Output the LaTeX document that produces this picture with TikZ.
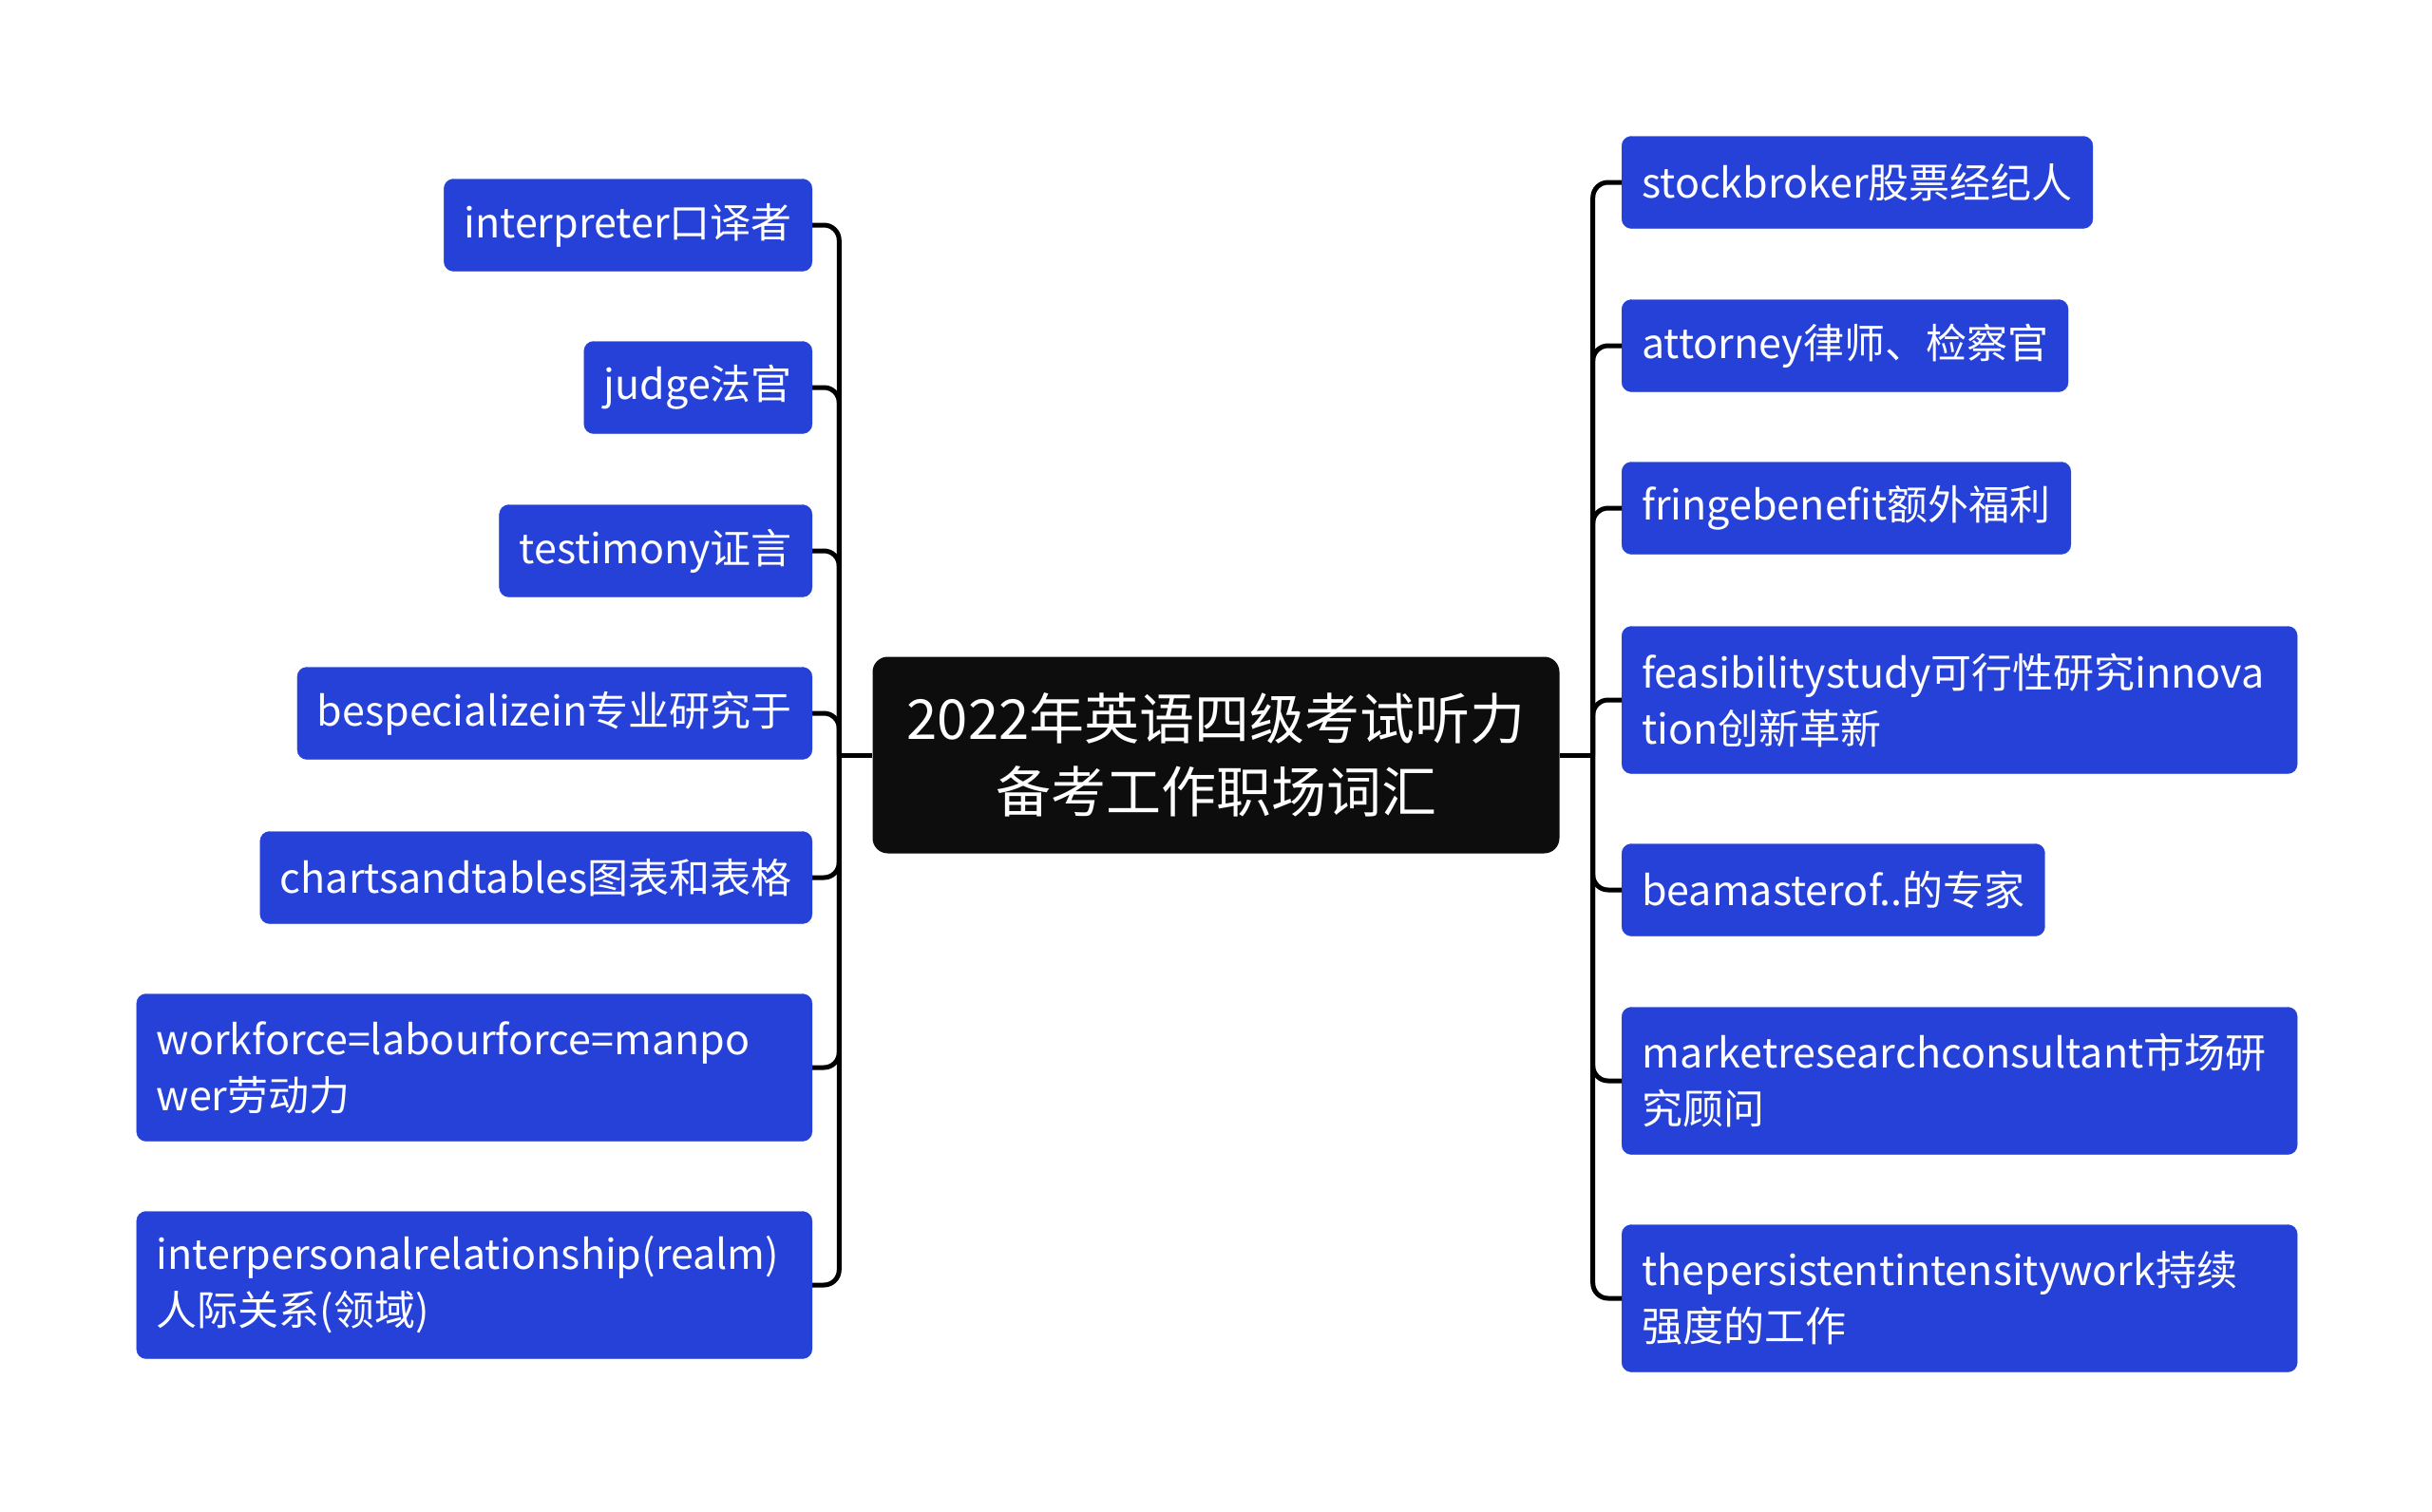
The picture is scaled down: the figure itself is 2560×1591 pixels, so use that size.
\documentclass[tikz,border=0pt]{standalone}
\usepackage{fontspec}
\setmainfont{Noto Sans CJK SC}
\usetikzlibrary{positioning}
\definecolor{leafblue}{HTML}{2541D8}
\definecolor{rootblack}{HTML}{0D0D0D}
\hyphenpenalty=10000

\begin{document}
\begin{tikzpicture}[x=1pt, y=-1pt]
    % Define styles
    \tikzstyle{leaf} = [rectangle, draw=leafblue, fill=leafblue, text=white, rounded corners=10pt, minimum height=97pt, inner xsep=21pt, font=\fontsize{43}{59}\selectfont]
    \tikzstyle{wide} = [leaf, text width=669pt, align=left, minimum height=155pt]
    \tikzstyle{root} = [rectangle, fill=rootblack, text=white, rounded corners=16pt, minimum width=723pt, minimum height=207pt, align=center, font=\fontsize{58}{77}\selectfont]
    \tikzstyle{line} = [draw, line width=5pt, rounded corners=16pt]

    \useasboundingbox (0,0) rectangle (2560,1591);

    % Place nodes
    \node [root] (root) at (1280,795) {2022年英语四级考试听力\\备考工作职场词汇};
    \coordinate (lhub) at ([xshift=-35pt]root.west);
    \coordinate (rhub) at ([xshift=35pt]root.east);

    \node [leaf, anchor=east] (l1) at (855,237) {interpreter口译者};
    \node [leaf, anchor=east] (l2) at (855,408) {judge法官};
    \node [leaf, anchor=east] (l3) at (855,580) {testimony证言};
    \node [leaf, anchor=east] (l4) at (855,751) {bespecializein专业研究于};
    \node [leaf, anchor=east] (l5) at (855,924) {chartsandtables图表和表格};
    \node [wide, anchor=east] (l6) at (855,1124) {workforce=labourforce=manpo\\wer劳动力};
    \node [wide, anchor=east] (l7) at (855,1353) {interpersonalrelationship(realm)\\人际关系(领域)};

    \node [leaf, anchor=west] (r1) at (1707,192) {stockbroker股票经纪人};
    \node [leaf, anchor=west] (r2) at (1707,364) {attorney律师、检察官};
    \node [leaf, anchor=west] (r3) at (1707,535) {fringebenefit额外福利};
    \node [wide, anchor=west] (r4) at (1707,737) {feasibilitystudy可行性研究innova\\tion创新革新};
    \node [leaf, anchor=west] (r5) at (1707,937) {beamasterof..的专家};
    \node [wide, anchor=west] (r6) at (1707,1138) {marketresearchconsultant市场研\\究顾问};
    \node [wide, anchor=west] (r7) at (1707,1367) {thepersistentintensitywork持续\\强度的工作};

    % Draw edges
    \path [line] (root.west) -- (lhub);
    \path [line] (root.east) -- (rhub);
    \foreach \n in {l1,l2,l3,l4,l5,l6,l7}
        \path [line] (\n.east) -| (lhub);
    \foreach \n in {r1,r2,r3,r4,r5,r6,r7}
        \path [line] (\n.west) -| (rhub);
\end{tikzpicture}
\end{document}
